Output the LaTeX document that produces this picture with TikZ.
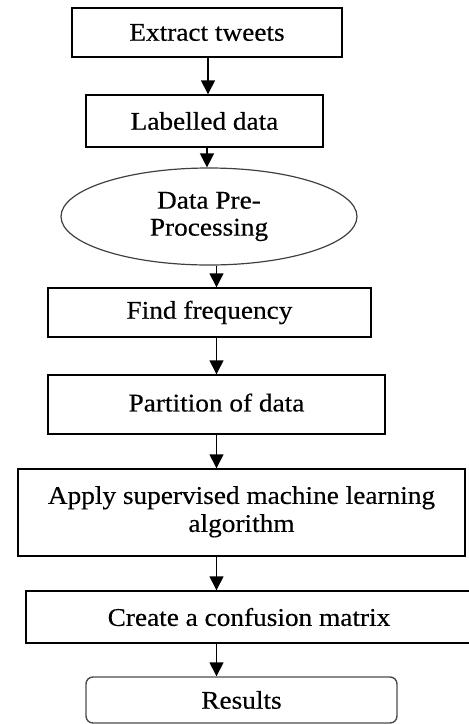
\documentclass[tikz,border=0pt]{standalone}
\usepackage{fontspec}
\setmainfont{Liberation Serif}[FakeStretch=1.07,FakeBold=0.4]
\usetikzlibrary{shapes.geometric,arrows.meta}
\begin{document}
\begin{tikzpicture}[x=1pt,y=-1pt,
  every node/.style={font=\fontsize{25.5}{27}\selectfont, inner sep=0pt, align=center},
  box/.style={draw=black, line width=1.4pt, rectangle},
  oval/.style={draw=black!75, line width=1.2pt, ellipse},
  rbox/.style={draw=black!70, line width=1.4pt, rectangle, rounded corners=7pt},
  arr/.style={line width=1.4pt, -{Triangle[length=14pt,width=14pt]}}]
\useasboundingbox (0,0) rectangle (469,724);
\node[box, minimum width=270pt, minimum height=49pt] (ext) at (207,32.5) {Extract tweets};
\node[box, minimum width=237pt, minimum height=52pt] (lab) at (204.5,121) {Labelled data};
\node[oval, minimum width=296pt, minimum height=97pt] (ell) at (209,216.5) {Data Pre-\\Processing};
\node[box, minimum width=323pt, minimum height=49pt] (find) at (209.5,312.5) {Find frequency};
\node[box, minimum width=337pt, minimum height=59pt] (part) at (216.5,404.5) {\raisebox{4pt}{Partition of data}};
\node[box, minimum width=447pt, minimum height=87pt] (apply) at (241.5,512.5) {\raisebox{4pt}{\begin{tabular}{@{}c@{}}Apply supervised machine learning\\[1pt]algorithm\end{tabular}}};
\node[box, minimum width=446pt, minimum height=52pt] (create) at (249,617) {Create a confusion matrix};
\node[rbox, minimum width=311pt, minimum height=46pt] (res) at (241.5,700) {Results};
\draw[arr] ([xshift=1pt]ext.south) -- ([xshift=1pt]ext.south |- lab.north);
\draw[arr] ([xshift=2.5pt]lab.south) -- ([xshift=2.5pt]lab.south |- ell.north);
\draw[arr] (ell.south -| part.south) -- (find.north -| part.south);
\draw[arr] (find.south -| part.south) -- (part.north);
\draw[arr] (part.south) -- (apply.north -| part.south);
\draw[arr] (apply.south -| part.south) -- (create.north -| part.south);
\draw[arr] (create.south -| part.south) -- (res.north -| part.south);
\end{tikzpicture}
\end{document}
